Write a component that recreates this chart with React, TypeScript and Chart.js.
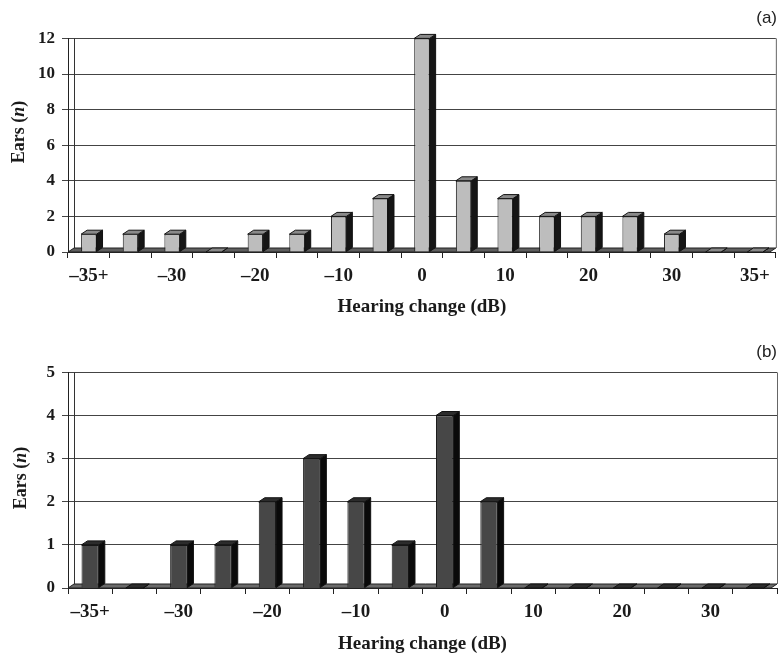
import React, { useEffect, useRef } from "react";
import { Chart, registerables } from "chart.js";

Chart.register(...registerables);

// ---- data ----
const categoriesA = ["\u201335+", "\u201335", "\u201330", "\u201325", "\u201320", "\u201315", "\u201310", "\u20135", "0", "5", "10", "15", "20", "25", "30", "35", "35+"];
const valuesA = [1, 1, 1, 0, 1, 1, 2, 3, 12, 4, 3, 2, 2, 2, 1, 0, 0];

const categoriesB = ["\u201335+", "\u201335", "\u201330", "\u201325", "\u201320", "\u201315", "\u201310", "\u20135", "0", "5", "10", "15", "20", "25", "30", "35"];
const valuesB = [1, 0, 1, 1, 2, 3, 2, 1, 4, 2, 0, 0, 0, 0, 0, 0];

const yTicksA = { max: 12, step: 2 };
const yTicksB = { max: 5, step: 1 };

const xTitle = "Hearing change (dB)";
const panelA = "(a)";
const panelB = "(b)";

const DX = 6;
const DY = 4;
const SERIF = "'Liberation Serif', 'Times New Roman', serif";

const threeD = {
  id: "threeD",
  beforeDatasetsDraw(chart: any, _args: any, opts: any) {
    const { ctx, chartArea } = chart;
    const { left, right, top, bottom } = chartArea;
    ctx.save();
    // left wall
    ctx.strokeStyle = "#333";
    ctx.lineWidth = 1;
    ctx.beginPath();
    ctx.moveTo(left + DX + 0.5, top);
    ctx.lineTo(left + DX + 0.5, bottom - DY);
    ctx.stroke();
    // right wall edge
    ctx.strokeStyle = "#666";
    ctx.beginPath();
    ctx.moveTo(right + 0.5, top);
    ctx.lineTo(right + 0.5, bottom - DY);
    ctx.stroke();
    // floor
    ctx.fillStyle = opts.floor;
    ctx.strokeStyle = "#222";
    ctx.beginPath();
    ctx.moveTo(left, bottom);
    ctx.lineTo(right - DX, bottom);
    ctx.lineTo(right, bottom - DY);
    ctx.lineTo(left + DX, bottom - DY);
    ctx.closePath();
    ctx.fill();
    ctx.stroke();
    ctx.restore();
  },
  afterDatasetsDraw(chart: any, _args: any, opts: any) {
    const { ctx } = chart;
    const meta = chart.getDatasetMeta(0);
    ctx.save();
    ctx.lineWidth = 1;
    ctx.strokeStyle = "#111";
    meta.data.forEach((bar: any) => {
      const { x, y, base, width } = bar.getProps(["x", "y", "base", "width"], true);
      const l = x - width / 2;
      const r = x + width / 2;
      // side
      ctx.fillStyle = opts.side;
      ctx.beginPath();
      ctx.moveTo(r, y);
      ctx.lineTo(r + DX, y - DY);
      ctx.lineTo(r + DX, base - DY);
      ctx.lineTo(r, base);
      ctx.closePath();
      ctx.fill();
      ctx.stroke();
      // top
      ctx.fillStyle = opts.top;
      ctx.beginPath();
      ctx.moveTo(l, y);
      ctx.lineTo(l + DX, y - DY);
      ctx.lineTo(r + DX, y - DY);
      ctx.lineTo(r, y);
      ctx.closePath();
      ctx.fill();
      ctx.stroke();
    });
    ctx.restore();
  },
  afterDraw(chart: any, _args: any, opts: any) {
    const { ctx } = chart;
    ctx.save();
    ctx.translate(opts.titleX, opts.titleY);
    ctx.rotate(-Math.PI / 2);
    ctx.fillStyle = "#1a1a1a";
    ctx.textBaseline = "middle";
    const bold = `bold 18px ${SERIF}`;
    const ital = `italic bold 18px ${SERIF}`;
    const parts: [string, string][] = [["Ears (", bold], ["n", ital], [")", bold]];
    let total = 0;
    parts.forEach(([t, f]) => {
      ctx.font = f;
      total += ctx.measureText(t).width;
    });
    let cx = -total / 2;
    ctx.textAlign = "left";
    parts.forEach(([t, f]) => {
      ctx.font = f;
      ctx.fillText(t, cx, 0);
      cx += ctx.measureText(t).width;
    });
    ctx.restore();
  },
};

function makeConfig(
  labels: string[],
  values: number[],
  yt: { max: number; step: number },
  panel: string,
  colors: { front: string; top: string; side: string; floor: string },
  layout: { titleTop: number; titleBottom: number; xtTop: number; xtBottom: number; titleX: number; titleY: number; pct: number }
): any {
  return {
    type: "bar",
    data: {
      labels,
      datasets: [
        {
          data: values,
          backgroundColor: colors.front,
          borderColor: "#1a1a1a",
          borderWidth: 1,
          barPercentage: 1,
          categoryPercentage: layout.pct,
        },
      ],
    },
    plugins: [threeD],
    options: {
      responsive: false,
      animation: false,
      devicePixelRatio: 1,
      layout: { padding: { left: 0, right: 2, top: 0, bottom: 0 } },
      plugins: {
        legend: { display: false },
        tooltip: { enabled: false },
        title: {
          display: true,
          text: panel,
          align: "end",
          color: "#222",
          font: { family: "'Liberation Sans', Arial, sans-serif", size: 17, weight: "normal", lineHeight: 1.2 },
          padding: { top: layout.titleTop, bottom: layout.titleBottom },
        },
        threeD: { ...colors, titleX: layout.titleX, titleY: layout.titleY },
      },
      scales: {
        x: {
          offset: true,
          grid: { display: true, drawOnChartArea: false, drawTicks: true, tickLength: 6, color: "#222", offset: true },
          border: { display: true, color: "#222" },
          ticks: {
            autoSkip: false,
            maxRotation: 0,
            padding: 9,
            color: "#1a1a1a",
            font: { family: SERIF, size: 19, weight: "bold", lineHeight: 1.0 },
            callback: (_v: any, i: number) => (i % 2 === 0 ? labels[i] : ""),
          },
          title: {
            display: true,
            text: xTitle,
            color: "#1a1a1a",
            font: { family: SERIF, size: 19, weight: "bold", lineHeight: 1.0 },
            padding: { top: layout.xtTop, bottom: layout.xtBottom },
          },
        },
        y: {
          min: 0,
          max: yt.max,
          afterFit: (s: any) => {
            s.width = 68;
          },
          grid: { color: "#444", lineWidth: 1, tickLength: 6, drawTicks: true },
          border: { display: true, color: "#222" },
          ticks: {
            stepSize: yt.step,
            padding: 7,
            color: "#1a1a1a",
            font: { family: SERIF, size: 17, weight: "bold", lineHeight: 1.2 },
          },
        },
      },
    },
  };
}

function Panel(props: { config: any; width: number; height: number }) {
  const ref = useRef<HTMLCanvasElement | null>(null);
  useEffect(() => {
    if (!ref.current) return;
    const chart = new Chart(ref.current, props.config);
    return () => chart.destroy();
  }, []);
  return <canvas ref={ref} width={props.width} height={props.height} style={{ display: "block", width: props.width, height: props.height }} />;
}

export default function App() {
  const cfgA = makeConfig(
    categoriesA,
    valuesA,
    yTicksA,
    panelA,
    { front: "#bdbdbd", top: "#8a8a8a", side: "#151515", floor: "#5e5e5e" },
    { titleTop: 8, titleBottom: 10, xtTop: 3, xtBottom: 3, titleX: 19, titleY: 132, pct: 0.37 }
  );
  const cfgB = makeConfig(
    categoriesB,
    valuesB,
    yTicksB,
    panelB,
    { front: "#474747", top: "#2c2c2c", side: "#0a0a0a", floor: "#6a6a6a" },
    { titleTop: 22, titleBottom: 10, xtTop: 4, xtBottom: 3, titleX: 21, titleY: 158, pct: 0.39 }
  );
  return (
    <div style={{ position: "absolute", left: 0, top: 0, width: 779, height: 657, background: "#fff" }}>
      <Panel config={cfgA} width={779} height={320} />
      <Panel config={cfgB} width={779} height={337} />
    </div>
  );
}
